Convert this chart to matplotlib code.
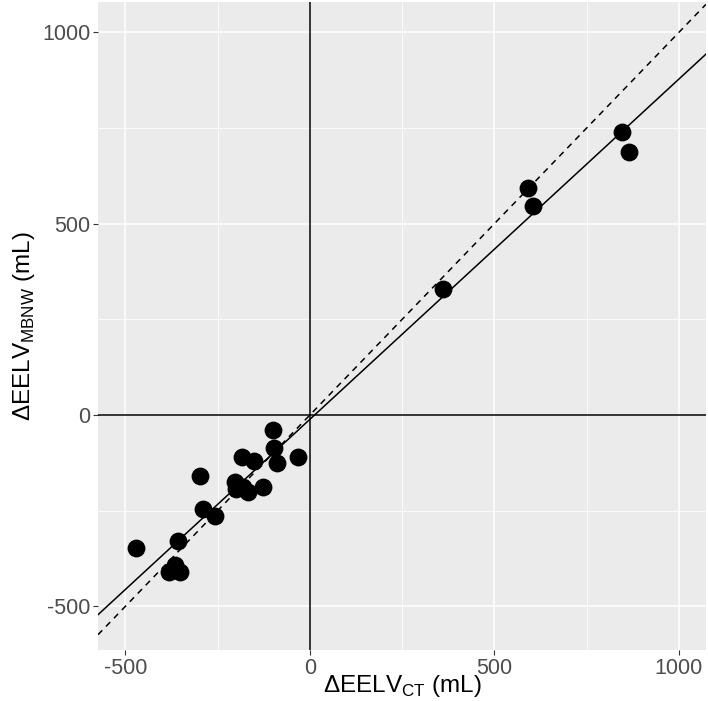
import numpy as np
import matplotlib
matplotlib.use('Agg')
from matplotlib import pyplot as plt

# Datos
delta_ct = [-470, -381, -352, -366, -357, -289, -257, -298, -203, -199, -167, -181,
            -127, -185, -152, -101, -98, -88, -32, 360, 592, 605, 845, 865]
delta_mbnw = [-347, -410, -410, -392, -329, -246, -264, -159, -174, -192, -200, -187,
              -189, -109, -120, -39, -87, -125, -109, 329, 594, 546, 739, 688]

x_ticks = [-500, 0, 500, 1000]
y_ticks = [-500, 0, 500, 1000]

plt.rcParams['font.family'] = ['Liberation Sans', 'DejaVu Sans']
plt.rcParams['axes.unicode_minus'] = False

fig = plt.figure(figsize=(7.08, 7.01), dpi=100)
ax = fig.add_axes([0.1384, 0.0727, 0.8586, 0.9243])
ax.set_facecolor('#EBEBEB')

xlim = (-574, 1073)
ylim = (-614, 1079)
ax.set_xlim(xlim)
ax.set_ylim(ylim)

# rejilla estilo ggplot
ax.set_xticks(x_ticks)
ax.set_yticks(y_ticks)
ax.set_xticks([-250, 250, 750], minor=True)
ax.set_yticks([-250, 250, 750], minor=True)
ax.grid(True, which='major', color='white', linewidth=1.1)
ax.grid(True, which='minor', color='white', linewidth=0.55)
ax.set_axisbelow(True)
for s in ax.spines.values():
    s.set_visible(False)
ax.tick_params(which='major', length=3.5, pad=2, color='#333333', labelcolor='#4D4D4D', labelsize=15.5)
ax.tick_params(which='minor', length=0)

# ejes en cero
ax.axhline(0, color='black', linewidth=1.1, zorder=1)
ax.axvline(0, color='black', linewidth=1.1, zorder=1)

# linea identidad y regresion
xx = np.array(xlim)
ax.plot(xx, xx, color='black', linestyle=(0, (4, 3.5)), linewidth=1.1, zorder=2)
m, b = np.polyfit(delta_ct, delta_mbnw, 1)
ax.plot(xx, m * xx + b, color='black', linewidth=1.1, zorder=2)

ax.scatter(delta_ct, delta_mbnw, s=165, color='black', zorder=3, linewidths=0)

ax.set_xlabel(r'ΔEELV$_{\mathregular{CT}}$ (mL)', fontsize=17.5, color='black')
ax.xaxis.set_label_coords(0.5, -0.036)
ax.set_ylabel(r'ΔEELV$_{\mathregular{MBNW}}$ (mL)', fontsize=17.5, color='black', labelpad=4)

fig.savefig('out.png', dpi=100)
